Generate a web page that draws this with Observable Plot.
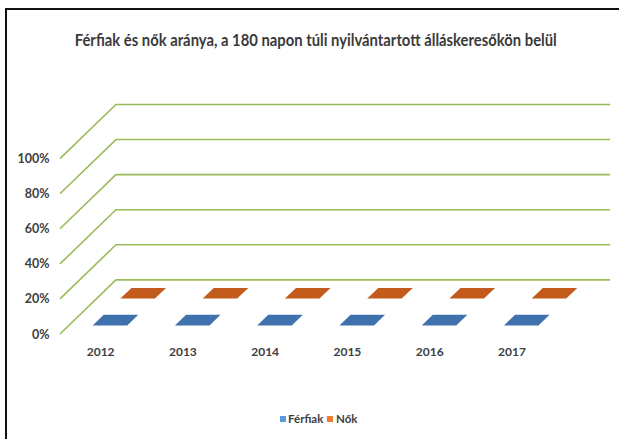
<!DOCTYPE html>
<html>
<head>
<meta charset="utf-8">
<script src="https://cdn.jsdelivr.net/npm/d3@7"></script>
<script src="https://cdn.jsdelivr.net/npm/@observablehq/plot@0.6"></script>
<style>
  html, body { margin: 0; padding: 0; background: #fff; }
  #wrap { position: relative; width: 619px; height: 439px; overflow: hidden; background: #fff;
          font-family: Lato, "DejaVu Sans Condensed", sans-serif; }
  #frame { position: absolute; left: 5px; top: 8px; width: 700px; height: 500px;
           border-left: 2px solid #111; border-top: 2px solid #111; }
  #title { position: absolute; left: 0; top: 29px; width: 632px; height: 22px; text-align: center;
           font-size: 17px; line-height: 22px; font-weight: bold; color: #3a3a3a; white-space: nowrap; }
  #title span { display: inline-block; transform-origin: center center; }
  #chart { position: absolute; left: 0; top: 70px; }
  #legend { position: absolute; top: 410px; left: 0; width: 619px; height: 18px; }
  .sw { position: absolute; top: 6px; width: 6px; height: 6px; }
  .lt { position: absolute; top: 0; font-size: 11.5px; line-height: 18px; font-weight: bold; color: #404040; white-space: nowrap; }
</style>
</head>
<body>
<div id="wrap">
  <div id="frame"></div>
  <div id="title"><span id="titletext">Férfiak és nők aránya, a 180 napon túli nyilvántartott álláskeresőkön belül</span></div>
  <div id="chart"></div>
  <div id="legend"></div>
</div>
<script>
// ---- data ----
const years = ["2012", "2013", "2014", "2015", "2016", "2017"];
const seriesNames = ["Férfiak", "Nők"];
const ferfiak = [0, 0, 0, 0, 0, 0];
const nok = [0, 0, 0, 0, 0, 0];
const yTicks = [0, 0.2, 0.4, 0.6, 0.8, 1];
const yTickLabels = ["0%", "20%", "40%", "60%", "80%", "100%"];

// ---- oblique 3D projection (category units, value units) ----
const DEPTH_X = 0.674;   // shift along category axis per full depth
const DEPTH_Y = 0.306;   // shift along value axis per full depth
const BAR_W = 0.42;      // bar width as fraction of category
const BAR_D = 0.2;       // bar depth as fraction of full depth
const nCat = years.length;
const projX = (c, d) => c + d * DEPTH_X;
const projY = (v, d) => v + d * DEPTH_Y;

const seriesValues = [ferfiak, nok];

// bar top faces (parallelograms)
const polys = [];
seriesValues.forEach((vals, r) => {
  const d0 = r * 0.5 + (0.5 - BAR_D) / 2, d1 = d0 + BAR_D;
  vals.forEach((v, i) => {
    const c0 = i + (1 - BAR_W) / 2, c1 = c0 + BAR_W;
    const id = seriesNames[r] + years[i];
    [[c0, d0], [c1, d0], [c1, d1], [c0, d1]].forEach(([c, d]) =>
      polys.push({id, series: seriesNames[r], X: projX(c, d), Y: projY(v, d)}));
  });
});

// gridlines: front-left diagonal + back wall line
const grid = [];
yTicks.forEach(t => {
  [[0, 0], [0, 1], [nCat, 1]].forEach(([c, d]) =>
    grid.push({t, X: projX(c, d), Y: projY(t, d)}));
});

const yLab = yTicks.map((t, k) => ({X: projX(0, 0), Y: projY(t, 0), label: yTickLabels[k]}));
const xLab = years.map((y, i) => ({X: projX(i + 0.5, 0), Y: projY(0, 0), label: y}));

const font = 'Lato, "DejaVu Sans Condensed", sans-serif';

const chart = Plot.plot({
  width: 619,
  height: 330,
  marginLeft: 60,
  marginRight: 10,
  marginTop: 34,
  marginBottom: 67,
  style: {fontFamily: font, background: "transparent"},
  x: {type: "linear", domain: [0, nCat + DEPTH_X], axis: null},
  y: {type: "linear", domain: [0, 1 + DEPTH_Y], axis: null},
  color: {domain: seriesNames, range: ["#3f72ad", "#c35b1d"]},
  marks: [
    Plot.line(grid, {x: "X", y: "Y", z: "t", stroke: "#9bbb59", strokeWidth: 1.6}),
    Plot.line(polys, {x: "X", y: "Y", z: "id", fill: "series", stroke: "none", curve: "linear-closed"}),
    Plot.text(yLab, {x: "X", y: "Y", text: "label", textAnchor: "end", dx: -11, dy: 1,
      fontSize: 12.5, fontWeight: "bold", fill: "#404040"}),
    Plot.text(xLab, {x: "X", y: "Y", text: "label", dy: 19, dx: -1,
      fontSize: 12, fontWeight: "bold", fill: "#404040"})
  ]
});
document.getElementById("chart").appendChild(chart);

// fit title to the reference width by horizontal scaling
const tt = document.getElementById("titletext");
const tw = tt.getBoundingClientRect().width;
if (tw > 0) tt.style.transform = `scaleX(${482 / tw})`;

// legend
const legendColors = ["#5b9bd5", "#ed7d31"];
const legendX = [[280, 288], [327, 336]];
const leg = document.getElementById("legend");
seriesNames.forEach((n, k) => {
  const s = document.createElement("div");
  s.className = "sw"; s.style.left = legendX[k][0] + "px"; s.style.background = legendColors[k];
  leg.appendChild(s);
  const t = document.createElement("div");
  t.className = "lt"; t.style.left = legendX[k][1] + "px"; t.textContent = n;
  leg.appendChild(t);
});
</script>
</body>
</html>
